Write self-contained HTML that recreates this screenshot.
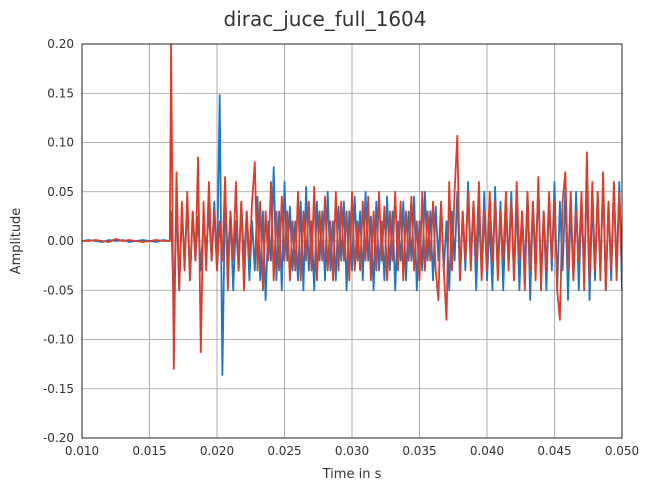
<!DOCTYPE html>
<html><head><meta charset="utf-8"><style>
body{margin:0;background:#fff;font-family:"Liberation Sans","DejaVu Sans",sans-serif;}
svg text{font-family:"DejaVu Sans","Liberation Sans",sans-serif;fill:#333;}
</style></head><body>
<svg id="c" width="651" height="491"></svg>
<script>
const xTicks=[0.010,0.015,0.020,0.025,0.030,0.035,0.040,0.045,0.050];
const yTicks=[0.20,0.15,0.10,0.05,0.00,-0.05,-0.10,-0.15,-0.20];
const preStart=0.010, preStep=0.0005;
const bluePre=[0,0.001,0,-0.001,0.001,0,0.001,-0.001,0,0.001,0,-0.001,0.001,0];
const redPre=[0,0,0.001,0,-0.001,0.002,0,0.001,0,-0.001,0,0.001,0,0];
const sigStart=0.0166, sigStep=0.0002;
const blueVals=[0.03,-0.07,0.04,-0.05,0.03,-0.02,0.035,-0.04,0.03,-0.02,
0.025,-0.03,0.02,-0.01,0.03,-0.02,0.04,-0.03,0.148,-0.136,
0.05,-0.02,0.03,-0.05,0.02,-0.03,0.04,-0.02,0.03,-0.04,
0.02,-0.03,0.045,-0.04,0.03,-0.06,0.02,-0.02,0.075,-0.04,
0.03,-0.05,0.06,-0.02,0.035,-0.03,0.02,-0.04,0.04,-0.05,
0.055,-0.03,0.02,-0.05,0.04,-0.02,0.03,-0.04,0.05,-0.03,
0.02,-0.04,0.035,-0.02,0.04,-0.05,0.03,-0.03,0.045,-0.02,
0.03,-0.04,0.05,-0.02,0.025,-0.05,0.04,-0.03,0.02,-0.04,
0.045,-0.03,0.03,-0.05,0.02,-0.02,0.04,-0.04,0.03,-0.02,
0.045,-0.05,0.02,-0.03,0.05,-0.02,0.03,-0.04,0.035,-0.02,
0.04,-0.03,0.02,-0.05,0.03,-0.02,0.05,-0.04,0.03,-0.03,
0.06,-0.02,0.04,-0.05,0.03,-0.03,0.05,-0.04,0.02,-0.05,
0.055,-0.03,0.04,-0.05,0.03,-0.02,0.05,-0.04,0.04,-0.05,
0.03,-0.03,0.05,-0.06,0.04,-0.02,0.055,-0.04,0.03,-0.05,
0.045,-0.03,0.06,-0.05,0.04,-0.03,0.05,-0.06,0.035,-0.04,
0.05,-0.05,0.04,-0.03,0.06,-0.06,0.045,-0.04,0.05,-0.03,
0.06,-0.05,0.04,-0.04,0.055,-0.03,0.06,-0.05,0.045,-0.045];
const redVals=[0.20,-0.13,0.07,-0.05,0.04,-0.03,0.05,-0.04,0.03,-0.02,
0.085,-0.113,0.04,-0.03,0.06,-0.02,0.03,-0.03,0.02,-0.02,
0.065,-0.05,0.03,-0.02,0.06,-0.03,0.04,-0.05,0.03,-0.02,
0.04,0.08,-0.03,0.04,-0.05,0.03,-0.02,0.06,-0.04,0.03,
-0.03,0.045,-0.02,0.03,-0.04,0.02,-0.03,0.05,-0.04,0.03,
-0.02,0.04,-0.03,0.055,-0.04,0.03,-0.02,0.045,-0.03,0.02,
-0.04,0.05,-0.03,0.04,-0.02,0.03,-0.04,0.05,-0.03,0.02,
-0.03,0.04,-0.02,0.045,-0.04,0.03,-0.03,0.05,-0.02,0.035,
-0.04,0.03,-0.02,0.05,-0.03,0.04,-0.04,0.03,-0.02,0.045,
-0.03,0.02,-0.04,0.05,-0.03,0.03,-0.02,0.04,-0.03,-0.06,
0.04,-0.03,-0.08,0.06,-0.03,0.05,0.107,-0.04,0.03,-0.02,
0.05,-0.03,0.04,-0.02,0.06,-0.04,0.03,-0.03,0.05,-0.02,
0.04,-0.04,0.03,-0.02,0.05,-0.03,0.04,-0.04,0.06,-0.02,
0.03,-0.05,0.05,-0.03,0.04,-0.04,0.065,-0.05,0.03,-0.03,
0.05,-0.02,0.04,-0.05,-0.08,0.04,0.07,-0.03,0.05,-0.04,
0.03,-0.02,0.05,-0.05,0.09,-0.04,0.06,-0.03,0.05,-0.04,
0.07,-0.05,0.04,-0.03,0.06,-0.04,0.05,-0.03,0.06,-0.02];
const L=82,R=622,T=44,B=438;
const xS=v=>L+(v-0.010)/0.04*(R-L);
const yS=v=>T+(0.20-v)/0.4*(B-T);
const svg=document.getElementById('c');const NS='http://www.w3.org/2000/svg';
function mk(tag,attrs,parent){const e=document.createElementNS(NS,tag);for(const k in attrs)e.setAttribute(k,attrs[k]);(parent||svg).appendChild(e);return e;}
const title=mk('text',{x:325,y:26,'text-anchor':'middle','font-size':20});title.textContent='dirac_juce_full_1604';


const grid=mk('g',{});


xTicks.forEach(t=>{mk('line',{x1:xS(t),x2:xS(t),y1:T,y2:B,stroke:'#999','stroke-width':0.8},grid);
const tx=mk('text',{x:xS(t),y:B+17,'text-anchor':'middle','font-size':12});tx.textContent=t.toFixed(3);

});
yTicks.forEach(t=>{mk('line',{x1:L,x2:R,y1:yS(t),y2:yS(t),stroke:'#999','stroke-width':0.8},grid);
const tx=mk('text',{x:L-8,y:yS(t)+4,'text-anchor':'end','font-size':12});tx.textContent=t.toFixed(2);

});
const cp=mk('clipPath',{id:'cl'});mk('rect',{x:L,y:T,width:R-L,height:B-T},cp);
function series(pre,vals,color,name){
 const pts=[];pre.forEach((v,i)=>{const t=preStart+i*preStep;if(t<sigStart)pts.push([t,v]);});
 vals.forEach((v,i)=>pts.push([sigStart+i*sigStep,v]));
 const p=mk('polyline',{points:pts.filter(q=>q[0]<=0.0501).map(q=>xS(q[0]).toFixed(1)+','+yS(q[1]).toFixed(1)).join(' '),fill:'none',stroke:color,'stroke-width':1.8,'stroke-linejoin':'round','clip-path':'url(#cl)'});
 
 
}
series(bluePre,blueVals,'#1f77c4','series-blue');
series(redPre,redVals,'#dc3c28','series-red');
const fr=mk('rect',{x:L,y:T,width:R-L,height:B-T,fill:'none',stroke:'#222','stroke-width':1});


const xl=mk('text',{x:352,y:478,'text-anchor':'middle','font-size':13});xl.textContent='Time in s';


const yl=mk('text',{x:20,y:241,'text-anchor':'middle','font-size':13,transform:'rotate(-90 20 241)'});yl.textContent='Amplitude';


</script></body></html>
